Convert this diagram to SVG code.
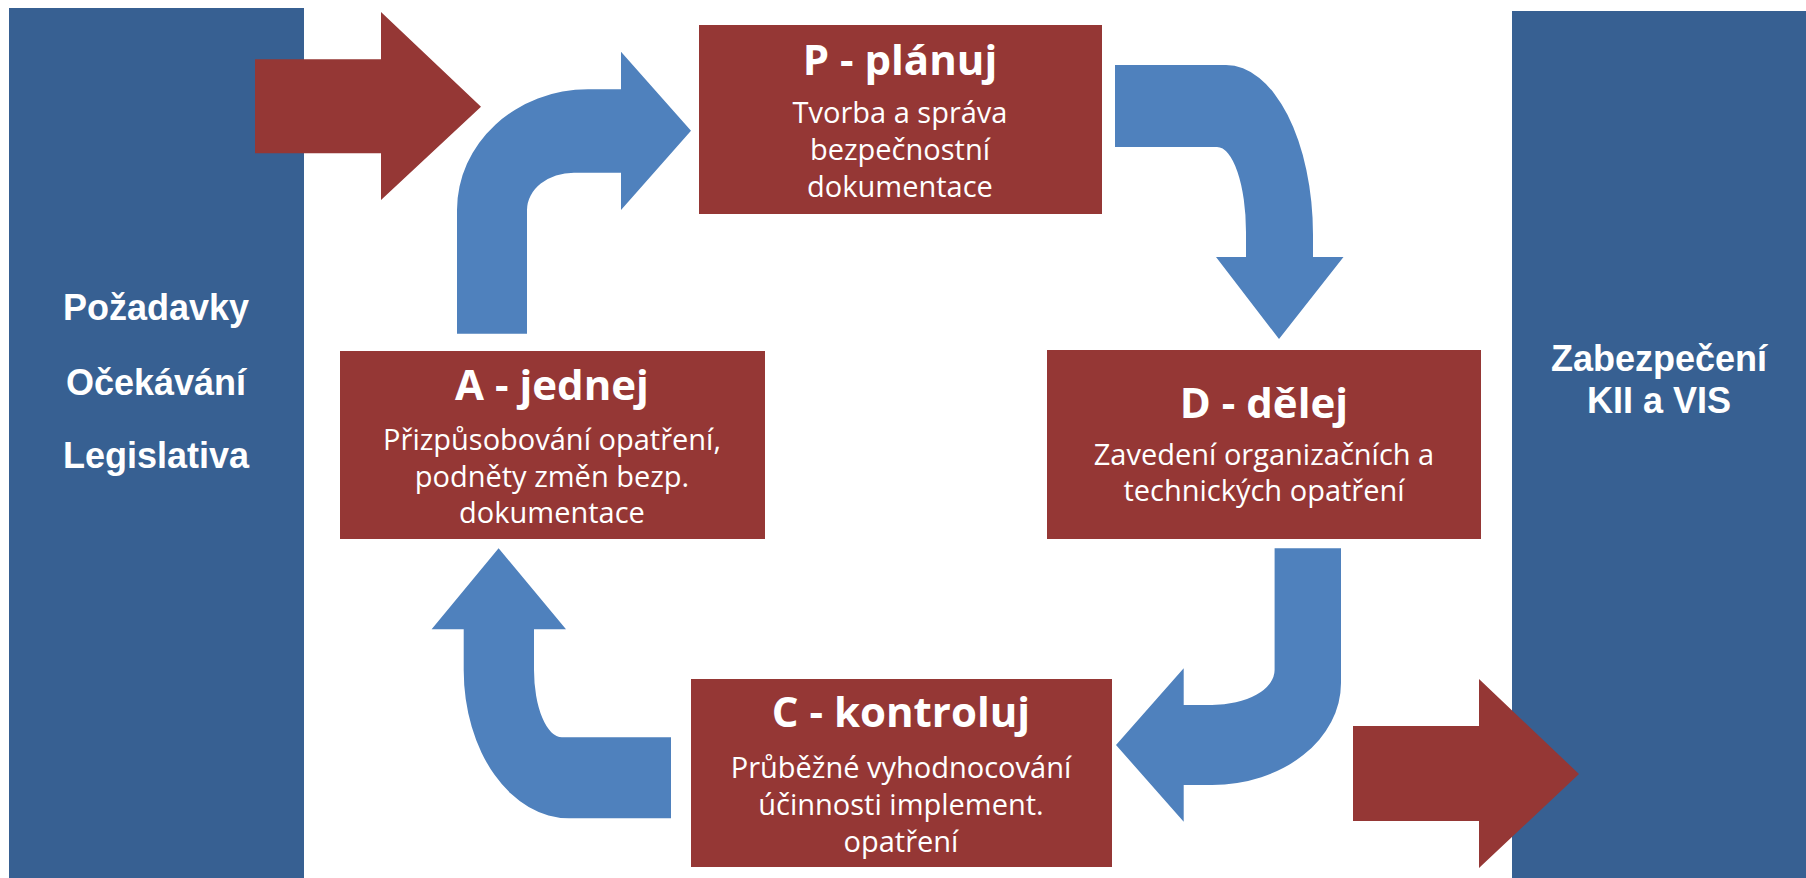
<svg xmlns="http://www.w3.org/2000/svg" width="1806" height="878" viewBox="0 0 1806 878">
<style>
.panel{fill:#376092}
.box{fill:#953735}
.flow{fill:#4F81BD}
.big{fill:#953735}
.ptxt{font-family:"Liberation Sans",Arial,sans-serif;font-weight:bold;font-size:36px;fill:#fff;text-anchor:middle}
.ttl{font-family:"Open Sans","DejaVu Sans",sans-serif;font-weight:bold;font-size:42px;fill:#fff;text-anchor:middle}
.sub{font-family:"Open Sans","DejaVu Sans",sans-serif;font-size:29px;fill:#fff;text-anchor:middle}
</style>
<rect width="1806" height="878" fill="#fff"/>
<g id="inputs">
<rect class="panel" x="9" y="8" width="295" height="870"/>
<text class="ptxt" x="156" y="320">Požadavky</text>
<text class="ptxt" x="156" y="395">Očekávání</text>
<text class="ptxt" x="156" y="468">Legislativa</text>
</g>
<g id="outputs">
<rect class="panel" x="1512" y="11" width="294" height="867"/>
<text class="ptxt" x="1659" y="371">Zabezpečení</text>
<text class="ptxt" x="1659" y="413">KII a VIS</text>
</g>
<g id="plan">
<rect class="box" x="699" y="25" width="403" height="189"/>
<text class="ttl" x="900" y="75">P - plánuj</text>
<text class="sub" x="900" y="123">Tvorba a správa</text>
<text class="sub" x="900" y="160">bezpečnostní</text>
<text class="sub" x="900" y="197">dokumentace</text>
</g>
<g id="do">
<rect class="box" x="1047" y="350" width="434" height="189"/>
<text class="ttl" x="1264" y="418">D - dělej</text>
<text class="sub" x="1264" y="465">Zavedení organizačních a</text>
<text class="sub" x="1264" y="501">technických opatření</text>
</g>
<g id="check">
<rect class="box" x="691" y="679" width="421" height="188"/>
<text class="ttl" x="901" y="727">C - kontroluj</text>
<text class="sub" x="901" y="778">Průběžné vyhodnocování</text>
<text class="sub" x="901" y="815">účinnosti implement.</text>
<text class="sub" x="901" y="852">opatření</text>
</g>
<g id="act">
<rect class="box" x="340" y="351" width="425" height="188"/>
<text class="ttl" x="552" y="400">A - jednej</text>
<text class="sub" x="552" y="450">Přizpůsobování opatření,</text>
<text class="sub" x="552" y="487">podněty změn bezp.</text>
<text class="sub" x="552" y="523">dokumentace</text>
</g>
<g id="connectors">
<path class="big" d="M255,59.3 L381,59.3 L381,12 L481,106.7 L381,200 L381,153.3 L255,153.3 Z"/>
<path class="big" d="M1353,726 L1479,726 L1479,679 L1579,774 L1479,868 L1479,821 L1353,821 Z"/>
<path class="flow" d="M457,333.7 L457,210 A131,120.7 0 0 1 588,89.3 L621,89.3 L621,51.7 L691,130.7 L621,210 L621,172.7 L574,172.7 A47,37.3 0 0 0 527,210 L527,333.7 Z"/>
<path class="flow" d="M1115,65 L1226,65 A87,170 0 0 1 1313,235 L1313,257 L1343.5,257 L1279,339 L1216,257 L1246,257 L1246,232 A29,85 0 0 0 1217,147 L1115,147 Z"/>
<path class="flow" d="M1274.6,548.3 L1341,548.3 L1341,683 A129,102 0 0 1 1212,785 L1183.7,785 L1183.7,821.7 L1116,745 L1183.7,668.3 L1183.7,705 L1212,705 A62.6,35 0 0 0 1274.6,670 Z"/>
<path class="flow" d="M671,737.3 L562,737.3 A28,67.3 0 0 1 534,670 L534,629.3 L566,629.3 L498.6,548.3 L431.6,629.3 L463.7,629.3 L463.7,670 A105.3,148.3 0 0 0 569,818.3 L671,818.3 Z"/>
</g>
</svg>
